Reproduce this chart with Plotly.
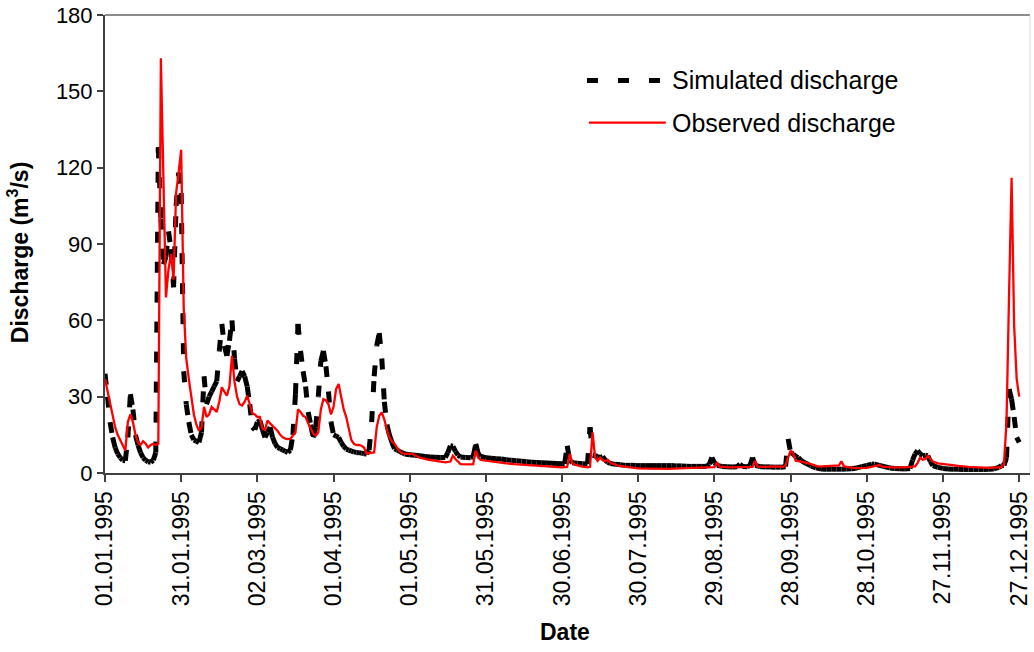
import pandas as pd
import plotly.graph_objects as go

START = pd.Timestamp("1995-01-01")

# ---------------- data (day offset from 01.01.1995, discharge m3/s) ----------------
obs_day = list(range(0, 119)) + [
    121, 124, 127, 130, 134, 136, 137, 138, 140, 143, 145, 146, 147, 148, 152, 155, 158, 161,
    164, 168, 172, 176, 180, 182, 183, 184, 185, 188, 190, 191, 192, 193, 194, 195, 196, 197,
    198, 199, 202, 206, 210, 214, 218, 222, 226, 230, 234, 238, 240, 241, 242, 246, 250, 252,
    255, 256, 257, 260, 264, 267, 268, 269, 270, 271, 272, 274, 277, 281, 285, 289, 290, 291,
    295, 300, 304, 305, 306, 310, 315, 319, 320, 321, 322, 323, 324, 325, 326, 328, 332, 336,
    340, 344, 348, 352, 353, 354, 355, 356, 357, 358, 359, 360]
obs_q = [
    37, 32, 27, 22, 18, 15, 12.7, 10.5, 8.8, 20, 23, 20, 15, 12, 11, 12.5, 11.5, 10, 11, 11.5,
    11, 11.5, 163, 116, 69, 80, 86, 76, 110, 118, 127, 65, 45, 37, 29, 23, 19, 16.6, 18, 26,
    22, 23, 26, 25, 24, 28, 33.7, 32, 30.4, 34, 46, 36, 30, 27, 26.5, 28, 30.4, 27, 23.5, 23,
    22, 22, 17.5, 17, 20.6, 19.5, 18.5, 17.5, 16.5, 15, 14, 13.5, 13.3, 13.4, 14.5, 16, 25, 24, 22.5, 22,
    19.5, 17.3, 15.5, 14.7, 16, 25, 29, 28.5, 27, 23, 26, 33, 35, 30, 25, 22, 18, 13, 11.5, 11,
    11, 10.7, 10, 7.5, 7.8, 8, 8.1, 18, 22.5, 23.8, 21, 17, 14, 12.5, 11.5, 10, 8.5, 7.8, 7.5,
    7.5, 6, 5.3, 4.8, 4.2, 4.5, 6.8, 5.5, 3.5, 3.4, 3.5, 8.8, 6, 5.1, 4.5, 4.2, 3.8, 3.5,
    3.3, 3, 2.6, 2.4, 2.2, 2.4, 7.5, 4, 3.3, 2.5, 2.2, 2.4, 16, 6, 4.8, 6.1, 5, 4.6,
    5.1, 4, 2.9, 2.3, 1.8, 1.7, 1.6, 1.6, 1.8, 2, 2.2, 2.2, 2.3, 4.2, 2.5, 2.2, 2.3, 2.5,
    2.4, 4.8, 2.5, 2.4, 2.6, 2.4, 3, 6, 8.8, 7.5, 4.8, 4.5, 3.8, 2.5, 2.6, 3, 4.6, 2.6,
    1.9, 2, 2.9, 3.2, 2.5, 2.2, 2.2, 2.6, 4, 6.1, 5.2, 5.5, 6.8, 5.5, 4.5, 3.8, 3.2, 2.8,
    2.4, 2.1, 2, 2.2, 2.2, 3.5, 20, 70, 116, 58, 37, 30]

sim_day = list(range(0, 119)) + [
    120, 122, 124, 126, 128, 130, 132, 134, 135, 136, 137, 138, 139, 140, 142, 144, 145, 146,
    147, 148, 150, 152, 154, 156, 158, 160, 162, 164, 166, 168, 170, 172, 174, 176, 178, 180,
    181, 182, 183, 184, 186, 188, 190, 191, 192, 193, 194, 195, 196, 197, 198, 199, 201, 203,
    205, 207, 209, 211, 213, 215, 217, 219, 221, 223, 225, 227, 229, 231, 233, 235, 237, 238,
    239, 240, 241, 243, 245, 247, 249, 250, 251, 253, 254, 255, 256, 258, 260, 262, 264, 266,
    268, 269, 270, 271, 272, 273, 274, 276, 278, 280, 282, 284, 286, 288, 290, 292, 294, 296,
    298, 300, 302, 303, 305, 307, 309, 311, 313, 315, 317, 318, 319, 320, 321, 322, 323, 324,
    325, 326, 328, 330, 332, 334, 336, 338, 340, 342, 344, 346, 348, 350, 352, 353, 354, 355,
    356, 357, 358, 359, 360]
sim_q = [
    39, 30, 20, 14, 10, 7.5, 6, 5, 4.8, 14, 31, 25, 15, 11, 8, 6, 5, 4.4, 4.2, 5,
    8, 128, 100, 82, 85, 95, 88, 73, 105, 118, 110, 40, 27, 20, 15, 13, 12.5, 12, 16, 38,
    27, 30, 32, 34, 36, 48, 58.6, 50, 46, 52, 60, 45, 36, 38, 40, 38, 34, 27, 18, 17,
    20, 20.6, 17, 14, 16, 18, 14, 11.5, 10, 9.5, 9, 8.5, 8.1, 9, 15, 31, 58.6, 48, 40, 34,
    24, 19, 14, 18, 30, 44, 48, 42, 32, 20, 15, 14.5, 14, 12, 10.5, 9.4, 9, 8.6, 8.3, 8.1,
    8, 7.8, 7.6, 7.5, 9, 20, 38, 50, 55, 45, 28, 19, 15, 12, 9.5, 9, 8.5, 8, 7.5,
    7.2, 7, 6.8, 6.5, 6.3, 6.2, 6.1, 6.1, 8, 10.7, 10.5, 8.5, 7, 6.3, 6.1, 6, 6.5, 11.4,
    7.5, 6.5, 6, 5.8, 5.6, 5.5, 5.2, 5, 4.8, 4.6, 4.4, 4.2, 4.1, 4, 3.9, 3.8, 3.7, 3.6,
    3.6, 10.7, 5, 4, 3.8, 3.6, 3.5, 18, 7, 6.8, 6.5, 6.1, 6.5, 5, 4.2, 3.7, 3.4, 3.2,
    3, 3, 2.9, 2.9, 2.9, 2.9, 2.9, 2.9, 2.9, 2.9, 2.8, 2.8, 2.7, 2.6, 2.6, 2.6, 2.7, 3.5,
    6.1, 4, 3, 2.6, 2.5, 2.4, 2.5, 3.5, 2.6, 2.5, 3, 6.1, 3, 2.5, 2.4, 2.4, 2.3, 2.3,
    2.5, 13.4, 8, 7.5, 6.5, 6.1, 5, 3.8, 2.8, 2, 1.6, 1.5, 1.5, 1.5, 1.5, 1.6, 1.7, 2,
    2.5, 3, 3.5, 3.5, 3, 2.5, 2, 1.8, 1.7, 1.6, 1.8, 5, 7.5, 8.8, 7.5, 6.8, 7, 6.8,
    4.5, 2.9, 2.2, 1.8, 1.6, 1.5, 1.5, 1.4, 1.4, 1.4, 1.4, 1.4, 1.5, 1.6, 2.2, 2.9, 3, 6,
    33, 29, 22, 14, 12]

tick_labels = ["01.01.1995", "31.01.1995", "02.03.1995", "01.04.1995", "01.05.1995",
               "31.05.1995", "30.06.1995", "30.07.1995", "29.08.1995", "28.09.1995",
               "28.10.1995", "27.11.1995", "27.12.1995"]
y_ticks = [0, 30, 60, 90, 120, 150, 180]

series_names = ["Simulated discharge", "Observed discharge"]

# ---------------- build ----------------
assert len(obs_day) == len(obs_q), (len(obs_day), len(obs_q))
assert len(sim_day) == len(sim_q), (len(sim_day), len(sim_q))

obs_x = [START + pd.Timedelta(days=d) for d in obs_day]
sim_dates = [START + pd.Timedelta(days=d) for d in sim_day]

# Excel restarts the dash pattern at every data point: draw each segment as its own sub-path
seg_x, seg_y = [], []
for i in range(len(sim_day) - 1):
    seg_x += [sim_dates[i], sim_dates[i + 1], None]
    seg_y += [sim_q[i], sim_q[i + 1], None]

tick_vals = [pd.to_datetime(t, format="%d.%m.%Y") for t in tick_labels]

FONT = "Liberation Sans, Arial, sans-serif"
W, H = 1034, 652
ML, MR, MT, MB = 105, 2, 15, 179
PW, PH = W - ML - MR, H - MT - MB


def px(xp):
    return (xp - ML) / PW


def py(yp):
    return (H - MB - yp) / PH


fig = go.Figure()
fig.add_trace(go.Scatter(x=seg_x, y=seg_y, mode="lines", name=series_names[0],
                         connectgaps=False, showlegend=False,
                         line=dict(color="black", width=5, dash="11px,19px")))
fig.add_trace(go.Scatter(x=obs_x, y=obs_q, mode="lines", name=series_names[1],
                         showlegend=False, line=dict(color="#ff0000", width=2.3)))

shapes = [
    dict(type="line", xref="paper", yref="paper", x0=0, x1=1, y0=1, y1=1,
         line=dict(color="#8c8c8c", width=2)),
    dict(type="line", xref="paper", yref="paper", x0=1, x1=1, y0=0, y1=1,
         line=dict(color="#d9d9d9", width=1)),
    # legend samples
    dict(type="line", xref="paper", yref="paper", x0=px(588), x1=px(662), y0=py(80.5), y1=py(80.5),
         line=dict(color="black", width=5, dash="11px,20px")),
    dict(type="line", xref="paper", yref="paper", x0=px(590), x1=px(667), y0=py(122.7), y1=py(122.7),
         line=dict(color="#ff0000", width=2.3)),
]

annotations = [
    dict(xref="paper", yref="paper", x=px(671), y=py(80), xanchor="left", yanchor="middle",
         text=series_names[0], showarrow=False, font=dict(family=FONT, size=25, color="black")),
    dict(xref="paper", yref="paper", x=px(671), y=py(123), xanchor="left", yanchor="middle",
         text=series_names[1], showarrow=False, font=dict(family=FONT, size=25, color="black")),
    dict(xref="paper", yref="paper", x=px(18), y=py(252), xanchor="center", yanchor="middle",
         textangle=-90, text="<b>Discharge (m<sup>3</sup>/s)</b>", showarrow=False,
         font=dict(family=FONT, size=23, color="black")),
    dict(xref="paper", yref="paper", x=px(566), y=py(632), xanchor="center", yanchor="middle",
         text="<b>Date</b>", showarrow=False, font=dict(family=FONT, size=23, color="black")),
]

fig.update_layout(
    width=W, height=H,
    margin=dict(l=ML, r=MR, t=MT, b=MB),
    paper_bgcolor="white", plot_bgcolor="white",
    font=dict(family=FONT, color="black"),
    shapes=shapes, annotations=annotations,
    showlegend=False,
)
fig.update_xaxes(
    type="date",
    range=[START, START + pd.Timedelta(days=364.25)],
    tickvals=tick_vals, ticktext=tick_labels, tickangle=-90,
    ticks="outside", ticklen=7, tickwidth=1.5, tickcolor="#404040",
    showline=True, linecolor="#404040", linewidth=2,
    showgrid=False, zeroline=False,
    tickfont=dict(family=FONT, size=23, color="black"),
)
fig.update_yaxes(
    range=[0, 180], tickvals=y_ticks, ticktext=[str(v) for v in y_ticks],
    ticks="outside", ticklen=6, tickwidth=1.5, tickcolor="#404040",
    showline=True, linecolor="#404040", linewidth=2,
    showgrid=False, zeroline=False,
    tickfont=dict(family=FONT, size=22, color="black"),
)

fig.write_html("out.html")
